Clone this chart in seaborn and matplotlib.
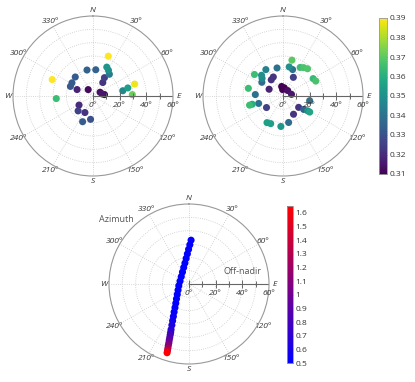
import numpy as np
import pandas as pd
import seaborn as sns
import matplotlib
matplotlib.use('Agg')
from matplotlib import pyplot as plt
from matplotlib.colors import Normalize, LinearSegmentedColormap
from matplotlib.cm import ScalarMappable

# top left panel: azimuth (deg), off-nadir (deg), value
az_a = [21, 292, 266, 347, 6, 25.5, 31, 37, 32, 36, 317, 302, 293, 292, 323, 62, 77, 83,
        80, 77, 74, 88, 237, 225, 206, 186, 202]
off_a = [32, 33, 27.6, 20, 19.8, 24, 22.5, 20.4, 16.2, 12.5, 19.5, 18.6, 18.4, 12.9, 6, 6, 7, 8.7,
         22.7, 26.8, 32.5, 29.5, 12.5, 15.8, 13.8, 17.6, 20.8]
val_a = [0.39, 0.39, 0.365, 0.335, 0.335, 0.352, 0.35, 0.343, 0.325, 0.322, 0.333, 0.333, 0.332,
         0.318, 0.312, 0.313, 0.315, 0.312, 0.347, 0.355, 0.388, 0.372, 0.32, 0.325, 0.322, 0.33, 0.333]

# top right panel
az_b = [14, 12, 20, 31, 36, 42, 29, 60, 65.5, 348, 327, 307, 314, 310, 303, 333, 324, 296,
        282.5, 273, 352, 9, 357, 41, 79, 254.7, 255, 253, 235, 211, 204, 184, 168, 150, 126,
        123, 121, 121, 100]
off_b = [27.7, 22.3, 21.1, 25, 26.3, 27.5, 16, 26.1, 27, 21.5, 23.6, 26.8, 22.4, 20.5, 18.9, 16, 15,
         11.6, 26.6, 20.8, 7.2, 6.2, 4.8, 5.4, 6.5, 26, 23.9, 19.1, 15.1, 23.3, 22.7, 22.9, 20.3, 15.8,
         14.5, 18.5, 21.6, 23.4, 20.3]
val_b = [0.37, 0.35, 0.34, 0.365, 0.367, 0.368, 0.325, 0.364, 0.367, 0.34, 0.345, 0.365, 0.35,
         0.348, 0.338, 0.322, 0.322, 0.318, 0.365, 0.34, 0.31, 0.31, 0.31, 0.313, 0.315, 0.365,
         0.36, 0.34, 0.325, 0.355, 0.355, 0.352, 0.338, 0.322, 0.322, 0.335, 0.35, 0.357, 0.34]

# bottom panel: track
az_c = [2.7, 1.2, 359.3, 356.9, 353.6, 349.0, 342.2, 331.3, 313.5, 287.6, 260.4, 240.9, 228.2,
        220.1, 214.5, 210.7, 208.0, 205.7, 204.0, 202.6, 201.5, 200.8, 200.3, 199.8, 199.4,
        198.9, 198.6, 198.2, 197.9, 197.7]
off_c = [32.9, 29.4, 26.0, 22.6, 19.3, 16.0, 13.0, 10.2, 8.0, 7.05, 7.75, 9.4, 11.8, 14.6, 17.5,
         20.6, 23.8, 27.0, 30.2, 33.4, 36.7, 38.7, 40.6, 42.6, 44.6, 46.6, 48.6, 50.6, 52.4, 54.1]
val_c = [0.52, 0.51, 0.51, 0.5, 0.5, 0.5, 0.5, 0.5, 0.5, 0.5, 0.5, 0.5, 0.5, 0.5, 0.5,
         0.51, 0.52, 0.55, 0.58, 0.62, 0.67, 0.72, 0.78, 0.85, 0.92, 1.0, 1.1, 1.25, 1.42, 1.65]

dir_labels = ['N', '30°', '60°', 'E', '120°', '150°', 'S', '210°', '240°', 'W', '300°', '330°']
ticks_a = [0.31, 0.32, 0.33, 0.34, 0.35, 0.36, 0.37, 0.38, 0.39]
ticks_c = [0.5, 0.6, 0.7, 0.8, 0.9, 1.0, 1.1, 1.2, 1.3, 1.4, 1.5, 1.6]

sns.set_theme(style='white')
plt.rcParams['font.family'] = ['Open Sans', 'DejaVu Sans']

W, H = 415, 382
fig = plt.figure(figsize=(W / 100, H / 100), dpi=100)


def px_box(cx, cy, rad):
    return [(cx - rad) / W, (H - cy - rad) / H, 2 * rad / W, 2 * rad / H]


def setup_polar(ax):
    ax.set_theta_zero_location('N')
    ax.set_theta_direction(-1)
    ax.set_ylim(0, 60)
    ax.set_yticks([10, 20, 30, 40, 50])
    ax.set_yticklabels([])
    ax.set_xticks(np.deg2rad(np.arange(0, 360, 30)))
    ax.set_xticklabels(dir_labels, fontsize=6, style='italic', color='#333')
    ax.set_xticks(np.deg2rad(np.arange(0, 360, 10)), minor=True)
    ax.tick_params(axis='x', which='both', direction='in', length=3, width=0.6, color='#777', pad=-3)
    ax.grid(True, linestyle=':', color='#c8c8c8', linewidth=0.6)
    ax.spines['polar'].set_color('#999')
    ax.spines['polar'].set_linewidth(0.8)
    ax.set_xlabel('')
    ax.set_ylabel('')
    # off-nadir scale along E
    ax.plot([np.pi / 2, np.pi / 2], [0, 60], color='#666', lw=0.8)
    ax.plot(np.full(4, np.pi / 2), [0, 20, 40, 60], ls='none', marker='|', ms=6, mew=0.7, color='#666')
    ax.plot(np.full(3, np.pi / 2), [10, 30, 50], ls='none', marker='|', ms=4, mew=0.7, color='#666')
    for r in (0, 20, 40, 60):
        ax.annotate(f'{r}°', (np.pi / 2, r), xytext=(0, -4), textcoords='offset points',
                    ha='center', va='top', fontsize=6, style='italic', color='#333')


def draw(ax, az, off, val, cmap, vmin, vmax):
    df = pd.DataFrame({'theta': np.deg2rad(az), 'r': off, 'v': val})
    df = df.sort_values('v')
    sns.scatterplot(data=df, x='theta', y='r', hue='v', palette=cmap, hue_norm=(vmin, vmax),
                    s=26, linewidth=0, legend=False, ax=ax)
    setup_polar(ax)


ax1 = fig.add_axes(px_box(93, 96, 80), projection='polar')
draw(ax1, az_a, off_a, val_a, 'viridis', 0.31, 0.39)

ax2 = fig.add_axes(px_box(283, 96, 80), projection='polar')
draw(ax2, az_b, off_b, val_b, 'viridis', 0.31, 0.39)

br = LinearSegmentedColormap.from_list('br', [(0, 0, 1), (1, 0, 0)])
ax3 = fig.add_axes(px_box(189, 284, 80), projection='polar')
df_c = pd.DataFrame({'theta': np.deg2rad(az_c), 'r': off_c, 'v': val_c})
sns.scatterplot(data=df_c, x='theta', y='r', hue='v', palette=br, hue_norm=(0.5, 1.65),
                s=26, linewidth=0, legend=False, ax=ax3)
setup_polar(ax3)
fig.text(116 / W, 1 - 219 / H, 'Azimuth', fontsize=6.5, color='#555', ha='center', va='center')
fig.text(242 / W, 1 - 272 / H, 'Off-nadir', fontsize=6.5, color='#555', ha='center', va='center')

# colorbars
cax1 = fig.add_axes([379 / W, 1 - 174 / H, 8 / W, 156 / H])
cb1 = fig.colorbar(ScalarMappable(Normalize(0.31, 0.39), 'viridis'), cax=cax1, ticks=ticks_a)
cb1.ax.set_yticklabels([f'{t:.2f}' for t in ticks_a])

cax2 = fig.add_axes([287 / W, 1 - 363 / H, 6 / W, 157 / H])
cb2 = fig.colorbar(ScalarMappable(Normalize(0.5, 1.65), br), cax=cax2, ticks=ticks_c)
cb2.ax.set_yticklabels([f'{t:g}' for t in ticks_c])

for cb in (cb1, cb2):
    cb.outline.set_edgecolor('#999')
    cb.outline.set_linewidth(0.6)
    cb.ax.tick_params(direction='in', length=3, width=0.6, color='#333', labelsize=6,
                      labelcolor='#333', pad=2, left=True, right=True)

fig.savefig('out.png', dpi=100)
